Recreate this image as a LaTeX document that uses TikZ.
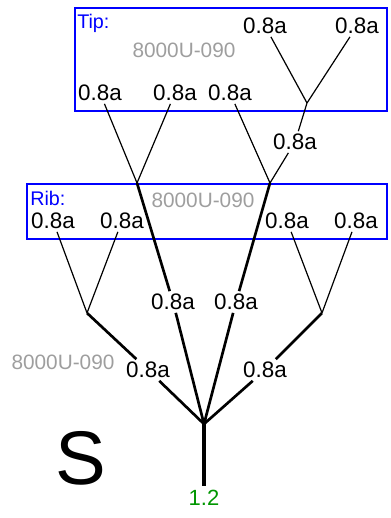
\documentclass[tikz,border=0pt]{standalone}
\usepackage{fontspec}
\setmainfont{Liberation Sans}
\definecolor{notegray}{RGB}{158,158,158}
\definecolor{stemgreen}{RGB}{0,150,0}
\begin{document}
\begin{tikzpicture}[x=.75pt,y=-.75pt,
  len/.style={font=\fontsize{16.8}{19}\selectfont,inner sep=2pt},
  note/.style={font=\fontsize{15.6}{18}\selectfont,text=notegray},
  title/.style={font=\fontsize{14.8}{17}\selectfont,text=blue,anchor=base west,inner sep=0pt},
  twig/.style={line width=.9pt},
  limb/.style={line width=2pt},
  zone/.style={draw=blue,line width=1pt}]
\useasboundingbox (0,0) rectangle (390,518);
% boxes
\draw[zone] (75,8) rectangle (387,111);
\draw[zone] (27,184) rectangle (387,239);
\node[title] (tiptxt) at (77,28) {Tip:};
\node[title] (ribtxt) at (30,205) {Rib:};
\node[note] (tipno) at (184,50) {8000U-090};
\node[note] (ribno) at (203,200) {8000U-090};
\node[note] (stemno) at (63,362) {8000U-090};
\node[font=\fontsize{57}{60}\selectfont,anchor=base west,inner sep=0pt] (big) at (55,484) {S};
\node[font=\fontsize{16.5}{18}\selectfont,text=stemgreen] (stem) at (204,498) {1.2};
% junctions
\coordinate (r0) at (204,424);
\coordinate (jl) at (87,313);
\coordinate (jr) at (322,313);
\coordinate (jm1) at (137,183);
\coordinate (jm2) at (270,183);
\coordinate (jt) at (307,103);
% lengths
\node[len] (bl) at (148,370) {0.8a};
\node[len] (br) at (265,370) {0.8a};
\node[len] (ml) at (173,302) {0.8a};
\node[len] (mr) at (236,302) {0.8a};
\foreach \n/\x in {r1/53,r2/122,r3/287,r4/356}
\node[len] (\n) at (\x,221) {0.8a};
\foreach \n/\x in {t1/100,t2/175,t3/230}
\node[len] (\n) at (\x,93) {0.8a};
\node[len] (tm) at (295,142) {0.8a};
\foreach \n/\x in {t4/265,t5/357}
\node[len] (\n) at (\x,26) {0.8a};
% branches
\draw[line width=3pt] (stem) -- (r0);
\draw[limb] (r0) -- (bl) (bl) -- (jl) (r0) -- (br) (br) -- (jr)
  (r0) -- (ml) (ml) -- (jm1) (r0) -- (mr) (mr) -- (jm2);
\draw[twig] (jl) -- (r1) (jl) -- (r2) (jr) -- (r3) (jr) -- (r4)
  (jm1) -- (t1) (jm1) -- (t2) (jm2) -- (t3) (jm2) -- (tm) (tm) -- (jt)
  (jt) -- (t4) (jt) -- (t5);
\end{tikzpicture}
\end{document}
